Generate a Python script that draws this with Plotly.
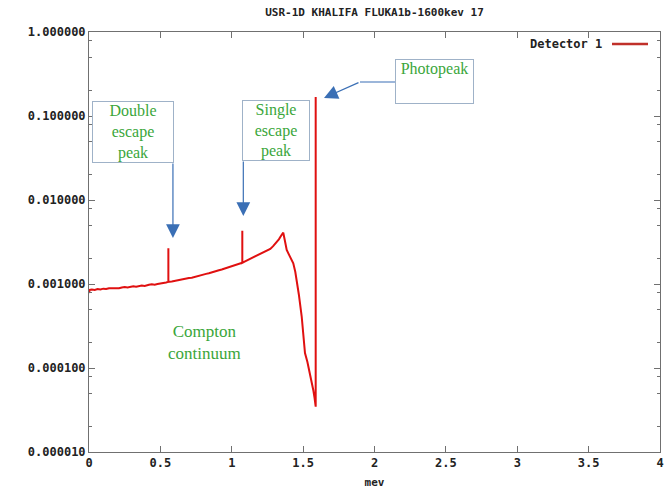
import math
import plotly.graph_objects as go

# ---- data ----
energy_mev = [0.000, 0.005, 0.02, 0.04, 0.06, 0.08, 0.10, 0.12, 0.14, 0.168, 0.19, 0.21, 0.23,
              0.25, 0.27, 0.29, 0.31, 0.33, 0.35, 0.37, 0.39, 0.404, 0.42, 0.44, 0.46, 0.48,
              0.50, 0.52, 0.54, 0.556, 0.556, 0.556, 0.58, 0.60, 0.62, 0.64, 0.66, 0.68, 0.70,
              0.72, 0.74, 0.76, 0.78, 0.80, 0.82, 0.84, 0.869, 0.89, 0.91, 0.93, 0.95, 0.97,
              0.99, 1.01, 1.03, 1.05, 1.074, 1.074, 1.074, 1.09, 1.11, 1.13, 1.15, 1.17, 1.19,
              1.21, 1.23, 1.245, 1.27, 1.29, 1.31, 1.33, 1.35, 1.361, 1.372, 1.385, 1.40,
              1.415, 1.431, 1.445, 1.455, 1.47, 1.49, 1.50, 1.513, 1.53, 1.548, 1.56, 1.571,
              1.58, 1.588, 1.588]
detector_1 = [0.00078, 0.00085, 0.00086, 0.00085, 0.00087, 0.00086, 0.00088, 0.00087, 0.00089,
              0.00089, 0.00090, 0.00089, 0.00091, 0.00092, 0.00091, 0.00093, 0.00094, 0.00093,
              0.00095, 0.00096, 0.00095, 0.00097, 0.00098, 0.00099, 0.00098, 0.00100, 0.00101,
              0.00102, 0.00104, 0.00106, 0.00266, 0.00106, 0.00107, 0.00109, 0.00110, 0.00112,
              0.00113, 0.00115, 0.00118, 0.00119, 0.00122, 0.00124, 0.00126, 0.00129, 0.00132,
              0.00134, 0.00140, 0.00142, 0.00146, 0.00149, 0.00153, 0.00156, 0.00161, 0.00164,
              0.00169, 0.00172, 0.00179, 0.00431, 0.00179, 0.00185, 0.00192, 0.00199, 0.00207,
              0.00214, 0.00222, 0.00230, 0.00238, 0.00245, 0.00262, 0.00282, 0.00306, 0.00340,
              0.00385, 0.00408, 0.00330, 0.00255, 0.00225, 0.00200, 0.00176, 0.00140, 0.00112,
              0.00075, 0.00041, 0.00026, 0.000151, 0.000118, 0.0000872, 0.0000690, 0.0000548,
              0.0000440, 0.0000346, 0.168]

y_tickvals = [1e-5, 1e-4, 1e-3, 1e-2, 1e-1, 1.0]
y_ticktext = ["0.000010", "0.000100", "0.001000", "0.010000", "0.100000", "1.000000"]
y_minor = [m * 10.0 ** e for e in range(-5, 0) for m in (2, 5, 8)]
x_tickvals = [0, 0.5, 1, 1.5, 2, 2.5, 3, 3.5, 4]
x_ticktext = ["0", "0.5", "1", "1.5", "2", "2.5", "3", "3.5", "4"]

title_text = "USR-1D KHALIFA FLUKA1b-1600kev 17"
x_label = "mev"
series_name = "Detector 1"

RED = "#e01010"
GREEN = "#3aa63a"
BOXC = "#9fb2c8"
ARROWC = "#3a6fb5"
AXC = "#707070"
MONO = "DejaVu Sans Mono"
SERIF = "Liberation Serif"

fig = go.Figure()
fig.add_trace(go.Scatter(x=energy_mev, y=detector_1, mode="lines", name=series_name,
                         line=dict(color=RED, width=2), showlegend=False, hoverinfo="skip"))

# plot-area geometry in px (for paper-coordinate placement)
L, R, T, B = 89, 660, 32, 452
W, H = R - L, B - T
def px(xp):
    return (xp - L) / W
def py(yp):
    return (B - yp) / H

annotations = []
# text boxes
annotations.append(dict(xref="paper", yref="paper", x=px(133), y=py(132), text="Double<br>escape<br>peak",
                        showarrow=False, font=dict(family=SERIF, size=16, color=GREEN),
                        bordercolor=BOXC, borderwidth=1, borderpad=0, width=80, height=60,
                        bgcolor="white", xanchor="center", yanchor="middle"))
annotations.append(dict(xref="paper", yref="paper", x=px(276), y=py(130.5), text="Single<br>escape<br>peak",
                        showarrow=False, font=dict(family=SERIF, size=16, color=GREEN),
                        bordercolor=BOXC, borderwidth=1, borderpad=0, width=66, height=59,
                        bgcolor="white", xanchor="center", yanchor="middle"))
annotations.append(dict(xref="paper", yref="paper", x=px(434.5), y=py(81.5), text="Photopeak",
                        showarrow=False, font=dict(family=SERIF, size=16, color=GREEN),
                        bordercolor=BOXC, borderwidth=1, borderpad=0, width=77, height=43,
                        valign="top", bgcolor="white", xanchor="center", yanchor="middle"))
annotations.append(dict(xref="paper", yref="paper", x=px(204), y=py(342), text="Compton<br>continuum",
                        showarrow=False, font=dict(family=SERIF, size=17, color=GREEN),
                        xanchor="center", yanchor="middle"))
# arrows (annotation y on a log axis is given in log10 units)
for (ax_x, ax_y, dx, dy) in [(0.588, 0.00353, 0, -76), (1.081, 0.00646, 0, -56), (1.646, 0.164, 36, -16)]:
    annotations.append(dict(x=ax_x, y=math.log10(ax_y), xref="x", yref="y", ax=dx, ay=dy,
                            text="", showarrow=True, arrowhead=2, arrowsize=2.3, arrowwidth=1.2,
                            arrowcolor=ARROWC, standoff=0, startstandoff=0))
# legend (gnuplot style: text then line sample)
annotations.append(dict(xref="paper", yref="paper", x=px(604), y=py(44), text=series_name,
                        showarrow=False, xanchor="right", yanchor="middle",
                        font=dict(family=MONO, size=12, color="#222222", weight="bold")))

shapes = [
    dict(type="line", xref="paper", yref="paper", x0=px(360), x1=px(396), y0=py(82), y1=py(82),
         line=dict(color=ARROWC, width=1.2)),
    dict(type="line", xref="paper", yref="paper", x0=px(612), x1=px(648), y0=py(44), y1=py(44),
         line=dict(color="#c0302a", width=2.5)),
]

axis_common = dict(showline=True, linecolor=AXC, linewidth=1, mirror="allticks", ticks="inside",
                   ticklen=6, tickcolor=AXC, showgrid=False, zeroline=False, automargin=False,
                   tickfont=dict(family=MONO, size=12, color="#222222", weight="bold"))

fig.update_layout(
    width=667, height=493,
    margin=dict(l=L, r=667 - R, t=T, b=493 - B),
    paper_bgcolor="white", plot_bgcolor="white",
    title=dict(text=title_text, x=0.5 * (L + R) / 667, xanchor="center", y=1 - 12 / 493, yanchor="middle",
               font=dict(family=MONO, size=11, color="#222222", weight="bold")),
    xaxis=dict(range=[0, 4], tickmode="array", tickvals=x_tickvals, ticktext=x_ticktext,
               title=dict(text=x_label, standoff=8, font=dict(family=MONO, size=11, color="#222222", weight="bold")),
               **axis_common),
    yaxis=dict(type="log", range=[-5, 0], tickmode="array", tickvals=y_tickvals, ticktext=y_ticktext,
               minor=dict(tickmode="array", tickvals=y_minor, ticks="inside", ticklen=3, tickcolor=AXC),
               **axis_common),
    annotations=annotations,
    shapes=shapes,
)

fig.write_html("out.html", config={"displayModeBar": False},
               post_script="document.body.style.margin='0px';")
